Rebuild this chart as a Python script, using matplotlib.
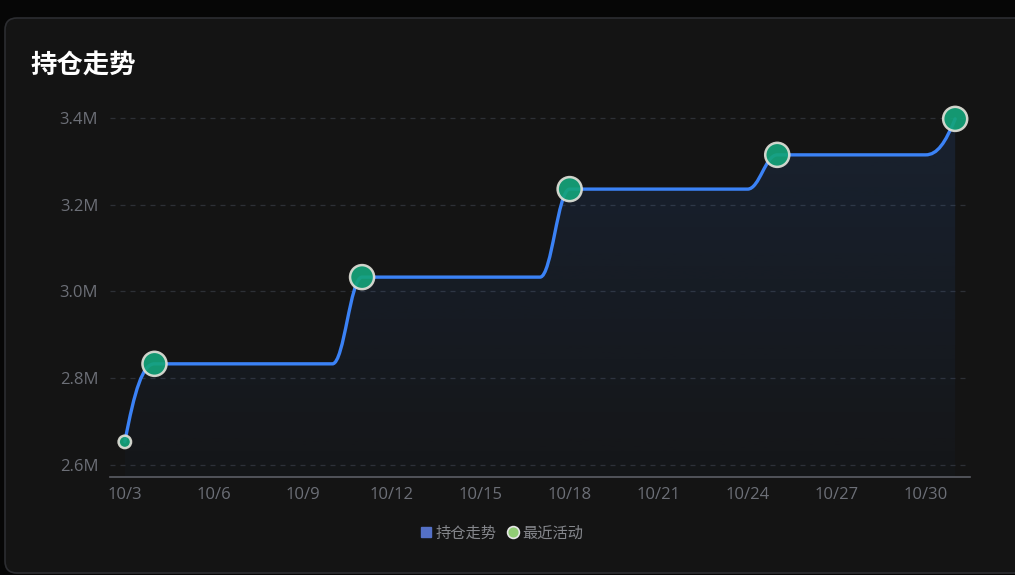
import matplotlib
matplotlib.use("Agg")
import matplotlib.pyplot as plt
import numpy as np
from matplotlib.path import Path
from matplotlib.patches import PathPatch, FancyBboxPatch
from matplotlib.lines import Line2D
from matplotlib.ticker import FuncFormatter

plt.rcParams['font.family'] = ['Noto Sans CJK SC', 'DejaVu Sans']

# daily position value, 10/3 .. 10/31
dates = ["10/3", "10/4", "10/5", "10/6", "10/7", "10/8", "10/9", "10/10",
         "10/11", "10/12", "10/13", "10/14", "10/15", "10/16", "10/17",
         "10/18", "10/19", "10/20", "10/21", "10/22", "10/23", "10/24",
         "10/25", "10/26", "10/27", "10/28", "10/29", "10/30", "10/31"]
holding = [2.653, 2.833, 2.833, 2.833, 2.833, 2.833, 2.833, 2.833,
           3.033, 3.033, 3.033, 3.033, 3.033, 3.033, 3.033,
           3.236, 3.236, 3.236, 3.236, 3.236, 3.236, 3.236,
           3.315, 3.315, 3.315, 3.315, 3.315, 3.315, 3.398]
holding = [v * 1e6 for v in holding]

# recent activity points
activity_dates = ["10/3", "10/4", "10/11", "10/18", "10/25", "10/31"]
activity_values = [2.653e6, 2.833e6, 3.033e6, 3.236e6, 3.315e6, 3.398e6]
activity_sizes = [80, 300, 300, 300, 300, 300]

BG = "#141414"
W, H = 1015, 575


def smooth_path(x, y, c=0.4):
    # monotone cubic bezier through the points
    x = np.asarray(x, float)
    y = np.asarray(y, float)
    s = np.diff(y) / np.diff(x)
    m = np.zeros_like(y)
    m[0], m[-1] = 2 * s[0], 2 * s[-1]
    for i in range(1, len(y) - 1):
        if s[i - 1] * s[i] > 0:
            m[i] = 2 * s[i - 1] * s[i] / (s[i - 1] + s[i])
    verts = [(x[0], y[0])]
    codes = [Path.MOVETO]
    for i in range(len(x) - 1):
        dx = x[i + 1] - x[i]
        ca = 1 / 3 if i == 0 else c
        cb = 1 / 3 if i == len(x) - 2 else c
        verts += [(x[i] + ca * dx, y[i] + m[i] * ca * dx),
                  (x[i + 1] - cb * dx, y[i + 1] - m[i + 1] * cb * dx),
                  (x[i + 1], y[i + 1])]
        codes += [Path.CURVE4] * 3
    return verts, codes


def main():
    fig = plt.figure(figsize=(W / 100, H / 100), dpi=100, facecolor="#060606")
    card = FancyBboxPatch((5, 2), 1040, 555, boxstyle="round,pad=0,rounding_size=12",
                          transform=None, facecolor=BG, edgecolor="#2c2d31",
                          linewidth=1.2, zorder=-10)
    fig.add_artist(card)
    fig.text(30 / W, 1 - 65 / H, "持仓走势", color="white", fontsize=19,
             fontweight="bold", va="center", ha="left")

    ax = fig.add_axes([110 / W, (H - 477) / H, 860 / W, 372 / H])
    ax.set_facecolor("none")
    ax.set_xlim(-0.5, len(dates) - 0.5)
    ax.set_ylim(2.572e6, 3.43e6)

    xs = np.arange(len(dates))
    verts, codes = smooth_path(xs, holding)

    # gradient area under the line
    y0 = ax.get_ylim()[0]
    area_verts = verts + [(xs[-1], y0), (xs[0], y0), (xs[0], holding[0])]
    area_codes = codes + [Path.LINETO, Path.LINETO, Path.CLOSEPOLY]
    area = PathPatch(Path(area_verts, area_codes), facecolor="none", edgecolor="none")
    ax.add_patch(area)
    grad = np.zeros((256, 1, 4))
    grad[:, 0, 0:3] = np.array([59, 130, 246]) / 255
    grad[:, 0, 3] = np.linspace(0.13, 0.02, 256)
    im = ax.imshow(grad, extent=[xs[0], xs[-1], y0, 3.43e6], aspect="auto",
                   origin="upper", zorder=1)
    im.set_clip_path(area)
    ax.set_xlim(-0.5, len(dates) - 0.5)
    ax.set_ylim(2.572e6, 3.43e6)

    ax.add_patch(PathPatch(Path(verts, codes), facecolor="none", edgecolor="#3b82f6",
                           linewidth=2.4, zorder=3, capstyle="round"))

    ax_x = [dates.index(d) for d in activity_dates]
    ax.scatter(ax_x, activity_values, s=activity_sizes, color="#14a37a",
               edgecolors="#e0e0d8", linewidths=1.8, alpha=0.92, zorder=4)

    ax.set_yticks([2.6e6, 2.8e6, 3.0e6, 3.2e6, 3.4e6])
    ax.yaxis.set_major_formatter(FuncFormatter(lambda v, p: f"{v / 1e6:.1f}M"))
    ax.set_xticks(xs[::3])
    ax.set_xticklabels(dates[::3])
    ax.tick_params(axis="both", length=0, colors="#6c6f77", labelsize=12)
    ax.tick_params(axis="y", pad=8.5)
    ax.tick_params(axis="x", pad=7.5)
    for lab in ax.get_xticklabels() + ax.get_yticklabels():
        lab.set_fontfamily(["Open Sans", "DejaVu Sans"])
    ax.grid(axis="y", linestyle=(0, (4, 4)), color="#2d3036", linewidth=0.9)
    ax.set_axisbelow(True)
    for sp in ["top", "right", "left"]:
        ax.spines[sp].set_visible(False)
    ax.spines["bottom"].set_color("#5c5e65")
    ax.spines["bottom"].set_linewidth(1.2)

    handles = [Line2D([], [], linestyle="none", marker="s", markersize=7,
                      color="#5470c6", label="持仓走势"),
               Line2D([], [], linestyle="none", marker="o", markersize=8.5,
                      markerfacecolor="#91cc75", markeredgecolor="#e6e6e6",
                      markeredgewidth=1.2, label="最近活动")]
    fig.legend(handles=handles, loc="center", bbox_to_anchor=(502 / W, 1 - 533 / H),
               ncol=2, frameon=False, fontsize=11, labelcolor="#85878c",
               handlelength=0.7, handletextpad=0.3, columnspacing=0.7)

    fig.savefig("out.png", dpi=100, facecolor=fig.get_facecolor())


if __name__ == "__main__":
    main()
